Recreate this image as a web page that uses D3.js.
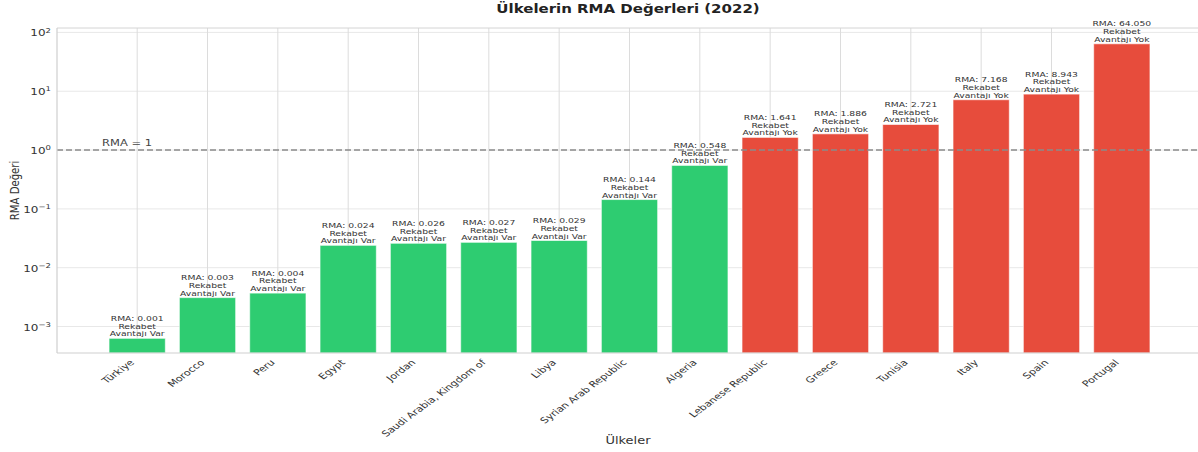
<!DOCTYPE html>
<html>
<head>
<meta charset="utf-8">
<script src="https://cdn.jsdelivr.net/npm/d3@7"></script>
<style>
  html, body { margin: 0; padding: 0; background: #fff; }
  svg { display: block; font-family: "DejaVu Sans", sans-serif; }
</style>
</head>
<body>
<svg id="chart" width="1198" height="452"></svg>
<script>
// RMA values per country, 2022
const countries = ["Türkiye", "Morocco", "Peru", "Egypt", "Jordan", "Saudi Arabia, Kingdom of",
  "Libya", "Syrian Arab Republic", "Algeria", "Lebanese Republic", "Greece", "Tunisia",
  "Italy", "Spain", "Portugal"];
const rmaValues = [0.00063, 0.0031, 0.0037, 0.024, 0.026, 0.027, 0.029, 0.144, 0.548,
  1.641, 1.886, 2.721, 7.168, 8.943, 64.050];
const yTickExponents = [-3, -2, -1, 0, 1, 2];
const threshold = 1;

const titleText = "Ülkelerin RMA Değerleri (2022)";
const xLabelText = "Ülkeler";
const yLabelText = "RMA Değeri";

const GREEN = "#2ecc71", RED = "#e74c3c";
const SY = 0.78; // vertical text compression

const svg = d3.select("#chart");
const margin = { left: 57, top: 28, right: 1202, bottom: 353 };

const x = d3.scaleLinear().domain([-1.14, 15.14]).range([margin.left, margin.right]);
const y = d3.scaleLog().domain([Math.pow(10, -3.45), Math.pow(10, 2.075)])
  .range([margin.bottom, margin.top]);
const barW = x(0.8) - x(0);

// text helper with vertical compression
function label(parent, px, py, str, opts = {}) {
  const g = parent.append("g").attr("transform", `translate(${px},${py}) scale(1,${opts.sy || SY})`);
  const t = g.append("text")
    .attr("font-size", opts.size || 10)
    .attr("fill", opts.fill || "#333")
    .attr("text-anchor", opts.anchor || "start")
    .attr("font-weight", opts.weight || "normal");
  if (opts.rotate) t.attr("transform", `rotate(${opts.rotate})`);
  if (opts.dy) t.attr("dy", opts.dy);
  t.text(str);
  return t;
}

// grid
const grid = svg.append("g");
grid.selectAll("line.h").data(yTickExponents).join("line")
  .attr("x1", margin.left).attr("x2", margin.right)
  .attr("y1", d => y(Math.pow(10, d))).attr("y2", d => y(Math.pow(10, d)))
  .attr("stroke", "#e8e8e8").attr("stroke-width", 1);
grid.selectAll("line.v").data(countries).join("line")
  .attr("x1", (d, i) => x(i)).attr("x2", (d, i) => x(i))
  .attr("y1", margin.top).attr("y2", margin.bottom)
  .attr("stroke", "#dcdcdc").attr("stroke-width", 1);

// bars
svg.append("g").selectAll("rect").data(rmaValues).join("rect")
  .attr("x", (d, i) => x(i) - barW / 2)
  .attr("width", barW)
  .attr("y", d => y(d))
  .attr("height", d => margin.bottom - y(d))
  .attr("fill", d => d < threshold ? GREEN : RED)
  .attr("stroke", "#fff").attr("stroke-opacity", 0.6).attr("stroke-width", 1);

// threshold line
svg.append("line")
  .attr("x1", margin.left).attr("x2", margin.right)
  .attr("y1", y(threshold)).attr("y2", y(threshold))
  .attr("stroke", "#8a8a8a").attr("stroke-width", 1.6)
  .attr("stroke-dasharray", "6,3");
label(svg, 102, y(threshold) - 4, "RMA = 1", { size: 11.5, fill: "#444" });

// spines
svg.append("line").attr("x1", margin.left).attr("x2", margin.right)
  .attr("y1", margin.top).attr("y2", margin.top).attr("stroke", "#d4d4d4");
svg.append("line").attr("x1", margin.left).attr("x2", margin.right)
  .attr("y1", margin.bottom).attr("y2", margin.bottom).attr("stroke", "#cfcfcf").attr("stroke-width", 1.2);
svg.append("line").attr("x1", margin.left).attr("x2", margin.left)
  .attr("y1", margin.top).attr("y2", margin.bottom).attr("stroke", "#cfcfcf").attr("stroke-width", 1.2);

// value labels
const lab = svg.append("g");
rmaValues.forEach((v, i) => {
  const top = y(v);
  const lines = ["RMA: " + v.toFixed(3), "Rekabet", v < threshold ? "Avantajı Var" : "Avantajı Yok"];
  lines.forEach((s, k) => {
    label(lab, x(i), top - 2 - (2 - k) * 7.7, s, { size: 9.2, anchor: "middle", fill: "#333" });
  });
});

// y tick labels
yTickExponents.forEach(e => {
  const g = svg.append("g").attr("transform", `translate(51,${y(Math.pow(10, e)) + 4}) scale(1,${SY})`);
  const t = g.append("text").attr("font-size", 12).attr("fill", "#333").attr("text-anchor", "end");
  t.append("tspan").text("10");
  t.append("tspan").attr("font-size", 8.5).attr("dy", -5).text(e < 0 ? "\u2212" + Math.abs(e) : String(e));
});

// x tick labels
countries.forEach((c, i) => {
  label(svg, x(i) - 5, margin.bottom + 8, c, { size: 11.2, sy: 0.74, anchor: "end", rotate: -45, fill: "#333", dy: "0.35em" });
});

// titles
label(svg, 628, 13, titleText, { size: 15, anchor: "middle", weight: "bold", fill: "#222" });
label(svg, 628, 444, xLabelText, { size: 13, anchor: "middle", fill: "#333" });
label(svg, 19, (margin.top + margin.bottom) / 2, yLabelText, { size: 13, anchor: "middle", rotate: -90, fill: "#333" });
</script>
</body>
</html>
